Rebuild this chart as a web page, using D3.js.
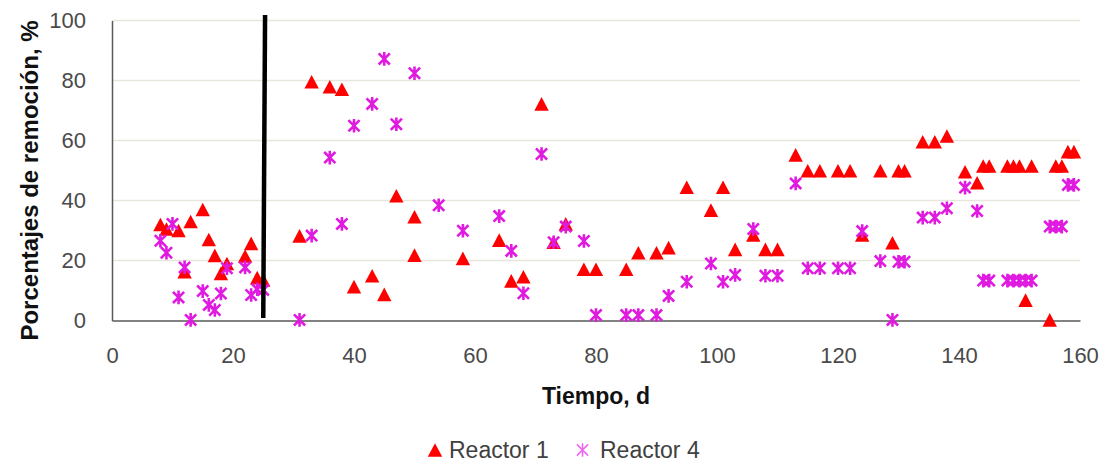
<!DOCTYPE html>
<html>
<head>
<meta charset="utf-8">
<script src="https://cdn.jsdelivr.net/npm/d3@7"></script>
<style>
    html, body { margin: 0; padding: 0; background: #fff; }
    svg { display: block; font-family: 'Liberation Sans', Arial, sans-serif; }
</style>
</head>
<body>
<svg id="chart" width="1105" height="461"></svg>
<script>
// Reactor 1 (red triangles), day and removal percentage
var reactor1Days = [8, 9, 11, 12, 13, 15, 16, 17, 18, 19, 22, 23, 24, 25,
    31, 33, 36, 38, 40, 43, 45, 47, 50, 50, 58, 64, 66, 68, 71, 73, 75, 78, 80,
    85, 87, 90, 92, 95, 99, 101, 103, 106, 108, 110, 113, 115, 117, 120, 122, 124,
    127, 129, 130, 131, 134, 136, 138, 141, 143, 144, 145, 148, 149, 150, 151, 152,
    155, 156, 157, 158, 159];
var reactor1Values = [32, 30.5, 30, 16.3, 33, 37, 27, 21.7, 15.7, 19, 21.5, 25.7, 14.3, 13.5,
    28.2, 79.6, 77.9, 77.1, 11.3, 14.9, 8.7, 41.6, 34.6, 21.8, 20.7, 26.8, 13.2, 14.6, 72.2, 26.1, 32.2, 17.1, 17.1,
    17.1, 22.6, 22.6, 24.3, 44.4, 36.8, 44.4, 23.7, 28.5, 23.7, 23.7, 55.2, 49.9, 49.9, 49.9, 49.9, 28.5,
    49.9, 25.9, 49.9, 49.9, 59.6, 59.6, 61.5, 49.6, 45.9, 51.5, 51.5, 51.5, 51.5, 51.5, 6.8, 51.5,
    0.2, 51.5, 51.5, 56.3, 56.3];

// Reactor 4 (magenta stars)
var reactor4Days = [8, 9, 10, 11, 12, 13, 15, 16, 17, 18, 19, 22, 23, 24, 25,
    31, 33, 36, 38, 40, 43, 45, 47, 50, 54, 58, 64, 66, 68, 71, 73, 75, 78, 80,
    85, 87, 90, 92, 95, 99, 101, 103, 106, 108, 110, 113, 115, 117, 120, 122, 124,
    127, 129, 130, 131, 134, 136, 138, 141, 143, 144, 145, 148, 149, 150, 151, 152,
    155, 156, 157, 158, 159];
var reactor4Values = [26.6, 22.6, 32.2, 7.7, 17.7, 0.2, 9.8, 5.2, 3.5, 9, 17.4, 17.7, 8.5, 10.4, 10.2,
    0.2, 28.3, 54.3, 32.2, 64.9, 72.2, 87.2, 65.4, 82.4, 38.4, 29.9, 34.8, 23.2, 9.1, 55.5, 26.1, 31.3, 26.5, 1.8,
    1.8, 1.8, 1.8, 8.2, 12.9, 19, 12.9, 15.2, 30.5, 14.9, 14.9, 45.7, 17.4, 17.4, 17.4, 17.4, 29.8,
    19.8, 0.2, 19.6, 19.6, 34.3, 34.3, 37.4, 44.3, 36.5, 13.3, 13.3, 13.3, 13.3, 13.3, 13.3, 13.3,
    31.3, 31.3, 31.3, 45.2, 45.2];

var seriesNames = ['Reactor 1', 'Reactor 4'];
var xTicks = [0, 20, 40, 60, 80, 100, 120, 140, 160];
var yTicks = [0, 20, 40, 60, 80, 100];
var xTitle = 'Tiempo, d';
var yTitle = 'Porcentajes de remoción, %';

// hand-drawn black divider (bottom and top ends, in data units)
var dividerDays = [25, 25.3];
var dividerValues = [0.8, 101.8];

var RED = '#FF0000';
var MAGENTA = '#E01BE0';
var AXIS_GREY = '#595959';

var svg = d3.select('#chart');
var margin = {left: 112, right: 25, top: 20.5, bottom: 140.5};
var width = 1105 - margin.left - margin.right;
var height = 461 - margin.top - margin.bottom;

var x = d3.scaleLinear().domain([0, 160]).range([0, width]);
var y = d3.scaleLinear().domain([0, 100]).range([height, 0]);

var g = svg.append('g').attr('transform', 'translate(' + margin.left + ',' + margin.top + ')');

/**
 * Horizontal gridlines, drawn under everything else
 */
g.append('g').selectAll('line')
    .data(yTicks.filter(function (d) { return d > 0; }))
    .enter().append('line')
    .attr('x1', 0)
    .attr('x2', width)
    .attr('y1', function (d) { return y(d); })
    .attr('y2', function (d) { return y(d); })
    .attr('stroke', '#E8E6DC')
    .attr('stroke-width', 1.5);

var xAxis = g.append('g')
    .attr('transform', 'translate(0,' + height + ')')
    .call(d3.axisBottom(x).tickValues(xTicks).tickSize(0).tickSizeOuter(0).tickPadding(27));
var yAxis = g.append('g')
    .call(d3.axisLeft(y).tickValues(yTicks).tickSize(0).tickSizeOuter(0).tickPadding(26));

[xAxis, yAxis].forEach(function (axis) {
    axis.select('.domain').attr('stroke', AXIS_GREY).attr('stroke-width', 1.5);
    axis.selectAll('text')
        .attr('fill', '#4a4a4a')
        .style('font-size', '22px')
        .style('font-family', "'Liberation Sans', Arial, sans-serif");
});

// axis titles
svg.append('text')
    .attr('x', margin.left + width / 2)
    .attr('y', 404)
    .attr('text-anchor', 'middle')
    .style('font-size', '23px')
    .style('font-weight', 'bold')
    .attr('fill', '#111')
    .text(xTitle);

svg.append('text')
    .attr('transform', 'translate(38,' + (margin.top + height / 2 + 10) + ') rotate(-90)')
    .attr('text-anchor', 'middle')
    .style('font-size', '24px')
    .style('font-weight', 'bold')
    .attr('fill', '#111')
    .text(yTitle);

var trianglePath = 'M0,-6.8L7.2,6.8L-7.2,6.8Z';
var starPath = 'M-5.6,-5.6L5.6,5.6M5.6,-5.6L-5.6,5.6M0,-6.8L0,6.8';

/**
 * Reactor 1 markers
 */
g.append('g').selectAll('path')
    .data(reactor1Days)
    .enter().append('path')
    .attr('d', trianglePath)
    .attr('fill', RED)
    .attr('transform', function (d, i) {
        return 'translate(' + x(d) + ',' + y(reactor1Values[i]) + ')';
    });

/**
 * Reactor 4 markers, drawn on top of reactor 1
 */
g.append('g').selectAll('path')
    .data(reactor4Days)
    .enter().append('path')
    .attr('d', starPath)
    .attr('fill', 'none')
    .attr('stroke', MAGENTA)
    .attr('stroke-width', 2.6)
    .attr('transform', function (d, i) {
        return 'translate(' + x(d) + ',' + y(reactor4Values[i]) + ')';
    });

// the thick black divider line
g.append('line')
    .attr('x1', x(dividerDays[0]))
    .attr('y1', y(dividerValues[0]))
    .attr('x2', x(dividerDays[1]))
    .attr('y2', y(dividerValues[1]))
    .attr('stroke', '#000')
    .attr('stroke-width', 4.5);

// legend
var legend = svg.append('g').attr('transform', 'translate(435,450)');
legend.append('path').attr('d', trianglePath).attr('fill', RED);
legend.append('text').attr('x', 14).attr('y', 7.5)
    .style('font-size', '23px').attr('fill', '#404040').text(seriesNames[0]);
legend.append('path').attr('d', starPath)
    .attr('transform', 'translate(147.5,0)')
    .attr('fill', 'none').attr('stroke', '#EE66EE').attr('stroke-width', 1.5);
legend.append('text').attr('x', 165).attr('y', 7.5)
    .style('font-size', '23px').attr('fill', '#404040').text(seriesNames[1]);
</script>
</body>
</html>
